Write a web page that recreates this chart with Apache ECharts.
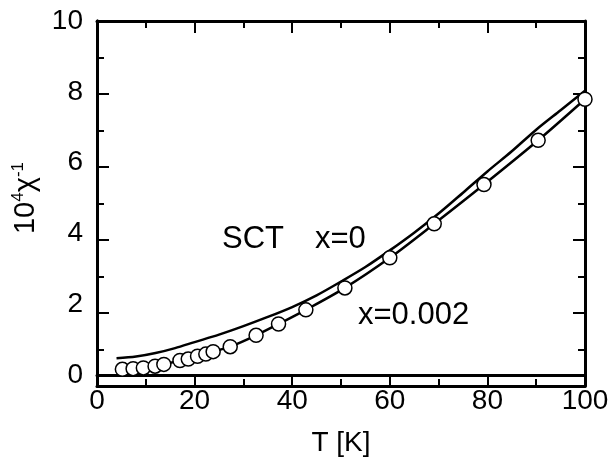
<!DOCTYPE html>
<html>
<head>
<meta charset="utf-8">
<script src="https://cdn.jsdelivr.net/npm/echarts@6/dist/echarts.min.js"></script>
<style>
  html, body { margin: 0; padding: 0; background: #fff; }
  #chart { width: 612px; height: 462px; }
</style>
</head>
<body>
<div id="chart"></div>
<script>
// x=0.002 measured points (open circles)
const circleT = [5.2, 7.4, 9.5, 11.9, 13.7, 17.0, 18.7, 20.6, 22.3, 23.8, 27.3, 32.6, 37.2, 42.8, 50.8, 60.0, 69.1, 79.3, 90.4, 100];
const circleY = [0.16, 0.18, 0.20, 0.25, 0.30, 0.41, 0.45, 0.53, 0.59, 0.66, 0.80, 1.12, 1.44, 1.84, 2.46, 3.31, 4.27, 5.38, 6.63, 7.79];

// x=0 curve
const upperT = [4, 8, 12, 16, 20, 25, 30, 35, 40, 45, 50, 55, 60, 65, 70, 75, 80, 85, 90, 95, 100];
const upperY = [0.47, 0.52, 0.62, 0.76, 0.93, 1.14, 1.38, 1.64, 1.92, 2.25, 2.64, 3.05, 3.52, 4.02, 4.56, 5.15, 5.75, 6.32, 6.93, 7.48, 8.03];

const FONT = '"Liberation Sans", Arial, Helvetica, sans-serif';
const zip = (a, b) => a.map((v, i) => [v, b[i]]);

const xRange = { type: 'value', min: 0, max: 100, interval: 20 };
const yRange = { type: 'value', min: 0, max: 10, interval: 2 };

let myChart = echarts.init(document.getElementById('chart'));

// main plot + four thin helper grids lying just outside each edge,
// so their axes' outward ticks point into the main plot
const grids = [
  { left: 97, right: 27, top: 21, bottom: 76 },   // 0 main
  { left: 97, right: 27, top: 386, height: 1 },   // 1 below bottom edge
  { left: 97, right: 27, top: 20, height: 1 },    // 2 above top edge
  { left: 96, width: 1, top: 21, bottom: 76 },    // 3 left of left edge
  { left: 585, width: 1, top: 21, bottom: 76 }    // 4 right of right edge
];

const lineStyle = { color: '#000', width: 3 };

function labelled(range, position, extra) {
  return Object.assign({}, range, {
    gridIndex: 0,
    position: position,
    axisLine: { show: true, onZero: false, lineStyle: lineStyle },
    axisTick: { show: false },
    splitLine: { show: false }
  }, extra);
}

function tickAxis(range, gridIndex, position) {
  return Object.assign({}, range, {
    gridIndex: gridIndex,
    position: position,
    axisLine: { show: true, onZero: false, lineStyle: lineStyle },
    axisLabel: { show: false },
    axisTick: { show: true, inside: false, length: 12, lineStyle: { color: '#000', width: 2 } },
    minorTick: { show: true, splitNumber: 2, length: 7, lineStyle: { color: '#000', width: 2 } },
    splitLine: { show: false },
    minorSplitLine: { show: false }
  });
}

function hidden(gridIndex) {
  return { type: 'value', gridIndex: gridIndex, show: false, min: 0, max: 1 };
}

let options = {
  animation: false,
  backgroundColor: '#fff',
  grid: grids.map(g => Object.assign({ containLabel: false }, g)),
  xAxis: [
    labelled(xRange, 'bottom', {
      name: 'T [K]', nameLocation: 'center', nameGap: 54,
      nameTextStyle: { fontFamily: FONT, fontSize: 28, color: '#000' },
      axisLabel: { show: true, fontFamily: FONT, fontSize: 28, color: '#000', margin: 12 }
    }),
    tickAxis(xRange, 1, 'top'),      // on bottom edge, ticks up
    tickAxis(xRange, 2, 'bottom'),   // on top edge, ticks down
    hidden(3),
    hidden(4)
  ],
  yAxis: [
    labelled(yRange, 'left', {
      name: '{b|10}{s|4}{b|χ}{s|-1}', nameLocation: 'center', nameGap: 47, nameRotate: 90,
      nameTextStyle: {
        fontFamily: FONT, color: '#000',
        rich: {
          b: { fontFamily: FONT, fontSize: 29, color: '#000', verticalAlign: 'bottom' },
          s: { fontFamily: FONT, fontSize: 17, color: '#000', verticalAlign: 'top', padding: [0, 0, 14, 0] }
        }
      },
      axisLabel: { show: true, fontFamily: FONT, fontSize: 28, color: '#000', margin: 14 }
    }),
    hidden(1),
    hidden(2),
    tickAxis(yRange, 3, 'right'),    // on left edge, ticks right
    tickAxis(yRange, 4, 'left')      // on right edge, ticks left
  ],
  series: [
    {
      name: 'x=0',
      type: 'line',
      xAxisIndex: 0,
      yAxisIndex: 0,
      smooth: 0.3,
      showSymbol: false,
      data: zip(upperT, upperY),
      lineStyle: { color: '#000', width: 2.5 },
      z: 2
    },
    {
      name: 'x=0.002',
      type: 'line',
      xAxisIndex: 0,
      yAxisIndex: 0,
      smooth: 0.3,
      symbol: 'circle',
      symbolSize: 14,
      data: zip(circleT, circleY),
      lineStyle: { color: '#000', width: 2.5 },
      itemStyle: { color: '#fff', borderColor: '#000', borderWidth: 1.5 },
      z: 3
    }
  ],
  graphic: [
    { type: 'text', left: 222, top: 224, style: { text: 'SCT', font: '31px ' + FONT, fill: '#000' } },
    { type: 'text', left: 315, top: 224, style: { text: 'x=0', font: '31px ' + FONT, fill: '#000' } },
    { type: 'text', left: 358, top: 300, style: { text: 'x=0.002', font: '31px ' + FONT, fill: '#000' } }
  ]
};

myChart.setOption(options);
window.onresize = myChart.resize;
</script>
</body>
</html>
